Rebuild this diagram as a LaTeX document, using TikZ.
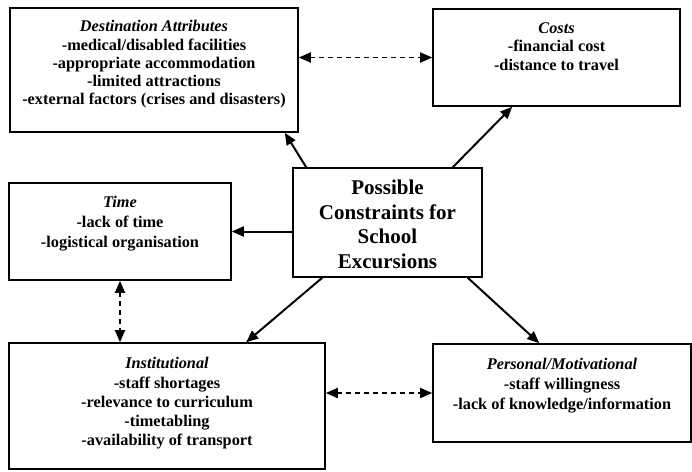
\documentclass[tikz,border=0pt]{standalone}
\usepackage{fontspec}
\setmainfont{Liberation Serif}
\usetikzlibrary{arrows.meta,calc}
\begin{document}
\begin{tikzpicture}[x=1pt,y=1pt,
  box/.style={draw,line width=1.6pt,inner sep=0pt},
  txt/.style={align=center,font=\fontsize{16.3}{18.5}\selectfont\bfseries,inner sep=0pt,anchor=north},
  arr/.style={line width=2pt,-{Triangle[length=12pt,width=10pt]}},
  darr/.style={line width=1.8pt,dash pattern=on 5pt off 4pt,{Triangle[length=12pt,width=10pt]}-{Triangle[length=12pt,width=10pt]}}]
\useasboundingbox (0,0) rectangle (692,-471);
% boxes
\node[box,minimum width=288pt,minimum height=124pt] (dest) at (154,-70) {};
\node[box,minimum width=247pt,minimum height=97pt] (costs) at (556.5,-57.5) {};
\node[box,minimum width=222pt,minimum height=97pt] (time) at (120,-231.5) {};
\node[box,minimum width=189pt,minimum height=109pt] (center) at (387.5,-222.5) {};
\node[box,minimum width=316pt,minimum height=126pt] (inst) at (167,-406) {};
\node[box,minimum width=258pt,minimum height=98pt] (pers) at (562,-393) {};
% texts
\node[txt,font=\fontsize{16.3}{18.3}\selectfont\bfseries] (destT) at ($(dest.north)+(0,-13)$) {\textit{Destination Attributes}\\-medical/disabled facilities\\-appropriate accommodation\\-limited attractions\\-external factors (crises and disasters)};
\node[txt] (costsT) at ($(costs.north)+(0,-14)$) {\textit{Costs}\\-financial cost\\-distance to travel};
\node[txt,font=\fontsize{16.3}{20}\selectfont\bfseries] (timeT) at ($(time.north)+(0,-14)$) {\textit{Time}\\-lack of time\\-logistical organisation};
\node[txt,font=\fontsize{21}{24.5}\selectfont\bfseries] (centerT) at ($(center.north)+(0,-13)$) {Possible\\Constraints for\\School\\Excursions};
\node[txt,font=\fontsize{16.3}{19.3}\selectfont\bfseries] (instT) at ($(inst.north)+(0,-15)$) {\textit{Institutional}\\-staff shortages\\-relevance to curriculum\\-timetabling\\-availability of transport};
\node[txt,font=\fontsize{16.3}{20}\selectfont\bfseries] (persT) at ($(pers.north)+(0,-15)$) {\textit{Personal/Motivational}\\-staff willingness\\-lack of knowledge/information};
% solid arrows
\draw[arr] ($(center.north west)+(14,0)$) -- ($(dest.south east)+(-14,0)$);
\draw[arr] ($(center.north east)+(-30,0)$) -- ($(costs.south west)+(80,0)$);
\draw[arr] (center.west |- time.east) -- (time.east);
\draw[arr] ($(center.south west)+(30,0)$) -- ($(inst.north west)+(238,0)$);
\draw[arr] ($(center.south east)+(-15,0)$) -- ($(pers.north west)+(107,0)$);
% dashed double arrows
\draw[darr] (dest.east |- costs.west) -- (costs.west);
\draw[darr] (time.south) -- (inst.north -| time.south);
\draw[darr] (inst.east |- pers.west) -- (pers.west);
\end{tikzpicture}
\end{document}
